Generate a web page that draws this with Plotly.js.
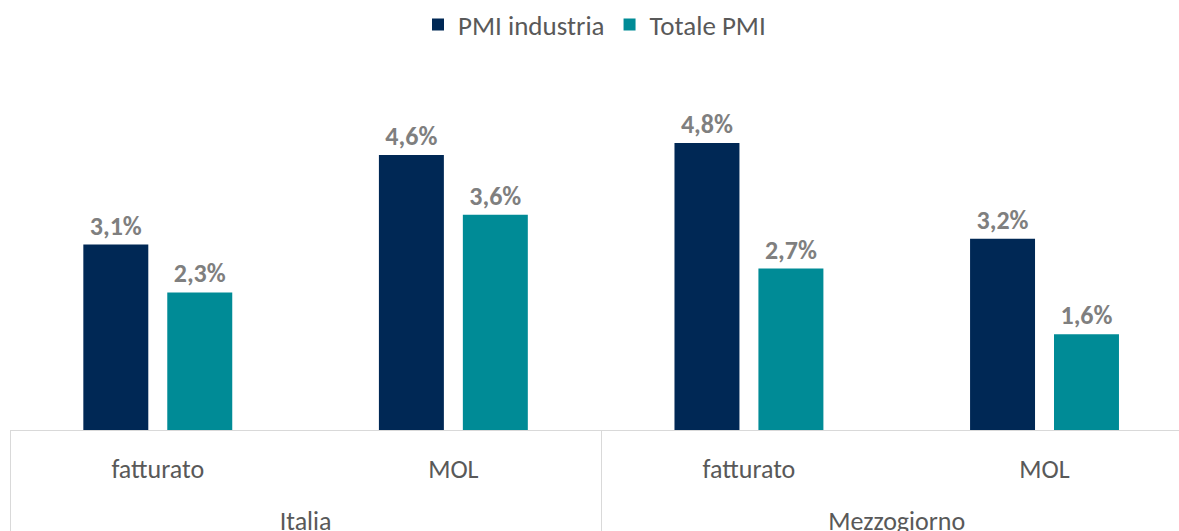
<!DOCTYPE html>
<html>
<head>
<meta charset="utf-8">
<script src="https://cdn.plot.ly/plotly-3.0.1.min.js"></script>
<style>html,body{margin:0;padding:0;background:#fff;}#chart{width:1179px;height:531px;}</style>
</head>
<body>
<div id="chart"></div>
<script>
const groups = ["Italia", "Italia", "Mezzogiorno", "Mezzogiorno"];
const indicators = ["fatturato", "MOL", "fatturato", "MOL"];
const pmiIndustria = [3.1, 4.6, 4.8, 3.2];
const totalePmi = [2.3, 3.6, 2.7, 1.6];
const seriesNames = ["PMI industria", "Totale PMI"];

const FONT = "Carlito, Lato, 'Open Sans', sans-serif";
const labelFont = {family: FONT, size: 26, color: "#7f7f7f", weight: "bold"};
// push the outer (group) level one line lower, as in the reference
const groupLabels = groups.map(g => "<br>" + g);

const traces = [
  {type: "bar", name: seriesNames[0], x: [groupLabels, indicators], y: pmiIndustria,
   marker: {color: "#002855"}, texttemplate: "%{y:.1f}%", textposition: "outside",
   textfont: labelFont, cliponaxis: false, hoverinfo: "skip"},
  {type: "bar", name: seriesNames[1], x: [groupLabels, indicators], y: totalePmi,
   marker: {color: "#008b96"}, texttemplate: "%{y:.1f}%", textposition: "outside",
   textfont: labelFont, cliponaxis: false, hoverinfo: "skip"}
];

const layout = {
  width: 1179, height: 531,
  margin: {l: 10, r: 0, t: 60, b: 101},
  separators: ",.",
  paper_bgcolor: "#fff", plot_bgcolor: "#fff",
  font: {family: FONT, color: "#595959", size: 26},
  barmode: "group", bargap: 0.432, bargroupgap: 0.226,
  showlegend: true,
  legend: {orientation: "h", x: 0.5, xanchor: "center", yref: "container", y: 0.953, yanchor: "middle",
           font: {family: FONT, size: 27, color: "#595959"}, itemwidth: 30, traceorder: "normal"},
  xaxis: {type: "multicategory", range: [-0.5, 3.455], showline: true, linecolor: "#d9d9d9", linewidth: 1,
          showdividers: true, dividercolor: "#d9d9d9", dividerwidth: 1, ticks: "", ticklabelstandoff: 16,
          tickfont: {family: FONT, size: 26, color: "#595959"}, showgrid: false, zeroline: false, fixedrange: true},
  yaxis: {range: [0, 6.187], visible: false, showgrid: false, zeroline: false, fixedrange: true}
};

Plotly.newPlot("chart", traces, layout, {displayModeBar: false, staticPlot: true});
</script>
</body>
</html>
